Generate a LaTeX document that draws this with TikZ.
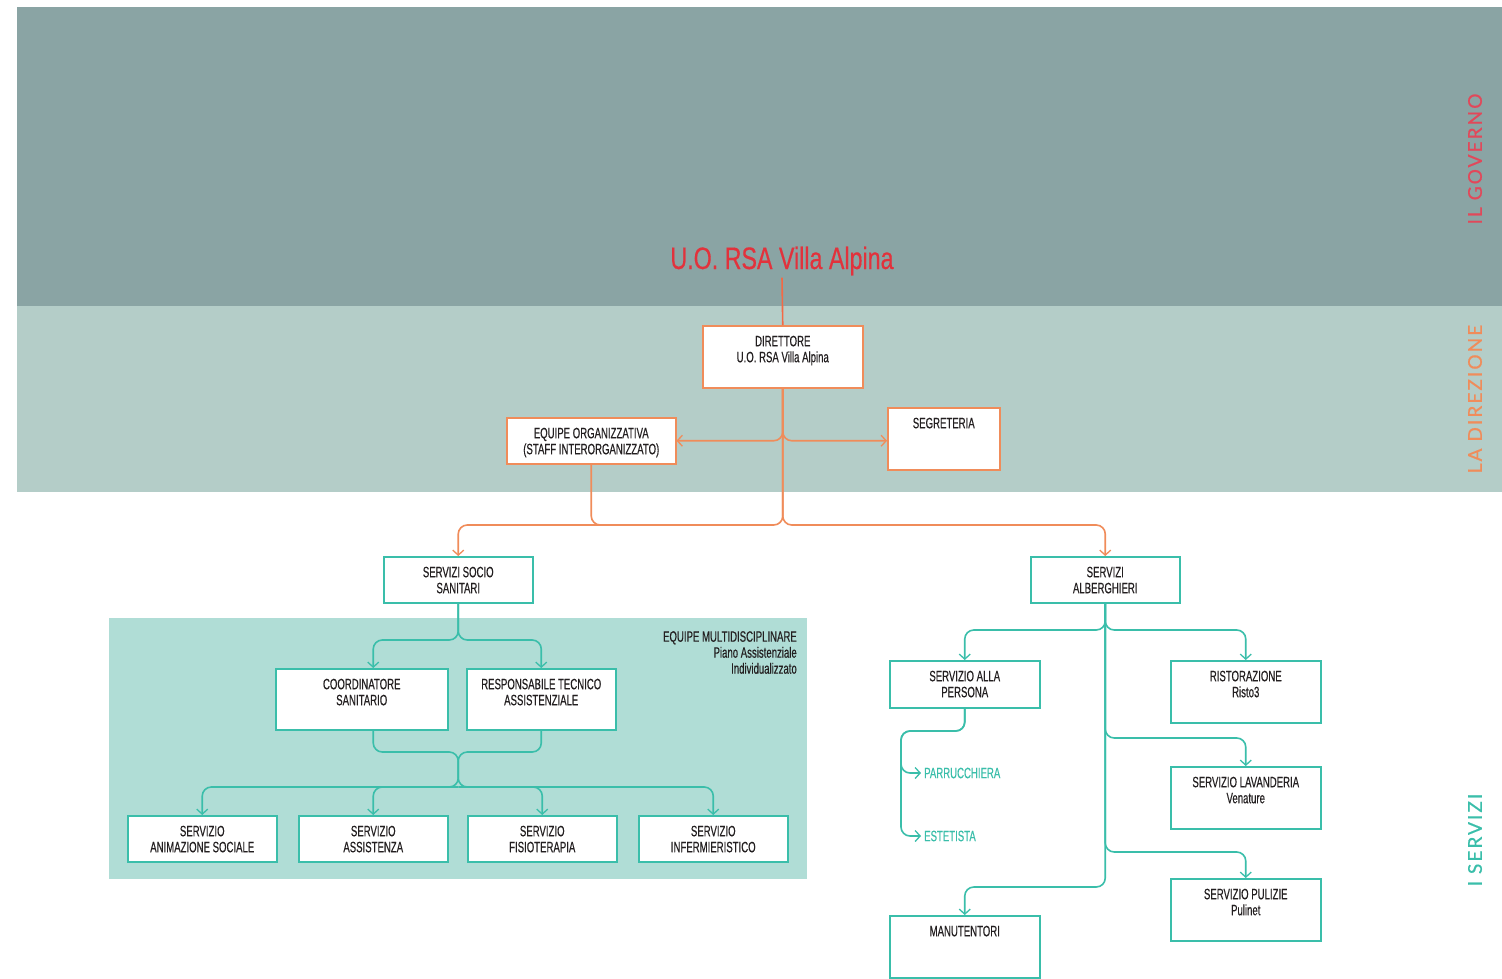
\documentclass[tikz,border=0pt]{standalone}
\usepackage{fontspec}
\setmainfont{Liberation Sans}
\newfontfamily\bxf[FakeStretch=0.64,FakeBold=0.4]{Liberation Sans}
\newfontfamily\ttlf[FakeStretch=0.75,FakeBold=0.4]{Liberation Sans}
\newfontfamily\sidef[LetterSpace=11,FakeBold=0.6]{Lato}
\usetikzlibrary{arrows.meta}
\definecolor{bandtop}{RGB}{138,164,164}
\definecolor{bandmid}{RGB}{180,205,200}
\definecolor{panelc}{RGB}{176,221,214}
\definecolor{orng}{RGB}{240,140,90}
\definecolor{tealc}{RGB}{58,190,170}
\definecolor{titlered}{RGB}{226,50,60}
\definecolor{govred}{RGB}{226,72,90}
\definecolor{txt}{RGB}{35,31,32}
\newcommand\orgbox[7]{%
  \node[#6, inner sep=0pt, anchor=north west] (#1) at (#2,#3)
  {\parbox[c][\dimexpr #5pt-#3pt\relax][t]{\dimexpr #4pt-#2pt\relax}{\centering\vspace*{10pt}#7\par}};}
\begin{document}
\begin{tikzpicture}[x=1pt,y=-1pt,
  bx/.style={line width=1.5pt, fill=white, text=txt, font=\bxf\fontsize{15}{16}\selectfont},
  obox/.style={bx, draw=orng},
  tbox/.style={bx, draw=tealc},
  arr/.style={-{Straight Barb[length=5pt,width=11pt,line width=1.3pt]}},
  oline/.style={draw=orng, line width=1.6pt, rounded corners=9pt},
  tline/.style={draw=tealc, line width=1.6pt, rounded corners=9pt},
  ptext/.style={text=tealc, inner sep=3pt, font=\bxf\fontsize{15}{16}\selectfont},
  side/.style={rotate=90, font=\sidef\fontsize{19}{20}\selectfont}]
\useasboundingbox (0,0) rectangle (1502,978);
\fill[white] (0,0) rectangle (1502,978);
\fill[bandtop] (17,7) rectangle (1502,306);
\fill[bandmid] (17,306) rectangle (1502,492);
\fill[panelc] (109,618) rectangle (807,879);

% side labels
\node[side, text=govred] (gov) at (1475,159) {IL GOVERNO};
\node[side, text=orng] (dirz) at (1475,399) {LA DIREZIONE};
\node[side, text=tealc] (serv) at (1475,840) {I SERVIZI};

% title
\node[text=titlered, font=\ttlf\fontsize{31}{33}\selectfont, anchor=base, inner sep=2pt] (title) at (782,269) {U.O. RSA Villa Alpina};

% boxes
\orgbox{dir}{702}{325}{862}{387}{obox}{DIRETTORE\\U.O. RSA Villa Alpina}
\orgbox{eq}{506}{417}{675}{463}{obox}{EQUIPE ORGANIZZATIVA\\(STAFF INTERORGANIZZATO)}
\orgbox{seg}{887}{407}{999}{469}{obox}{SEGRETERIA}
\orgbox{sss}{383}{556}{532}{602}{tbox}{SERVIZI SOCIO\\SANITARI}
\orgbox{sa}{1030}{556}{1179}{602}{tbox}{SERVIZI\\ALBERGHIERI}
\orgbox{coord}{275}{668}{447}{729}{tbox}{COORDINATORE\\SANITARIO}
\orgbox{rta}{466}{668}{615}{729}{tbox}{RESPONSABILE TECNICO\\ASSISTENZIALE}
\orgbox{anim}{127}{815}{276}{861}{tbox}{SERVIZIO\\ANIMAZIONE SOCIALE}
\orgbox{ass}{298}{815}{447}{861}{tbox}{SERVIZIO\\ASSISTENZA}
\orgbox{fis}{467}{815}{616}{861}{tbox}{SERVIZIO\\FISIOTERAPIA}
\orgbox{inf}{638}{815}{787}{861}{tbox}{SERVIZIO\\INFERMIERISTICO}
\orgbox{sap}{889}{660}{1039}{707}{tbox}{SERVIZIO ALLA\\PERSONA}
\orgbox{risto}{1170}{660}{1320}{722}{tbox}{RISTORAZIONE\\Risto3}
\orgbox{lav}{1170}{766}{1320}{828}{tbox}{SERVIZIO LAVANDERIA\\Venature}
\orgbox{pul}{1170}{878}{1320}{940}{tbox}{SERVIZIO PULIZIE\\Pulinet}
\orgbox{man}{889}{915}{1039}{977}{tbox}{MANUTENTORI}

\node[anchor=north east, align=right, inner sep=0pt, text=txt, font=\bxf\fontsize{15}{16}\selectfont] (emd) at (797,631)
  {EQUIPE MULTIDISCIPLINARE\\Piano Assistenziale\\Individualizzato};

\node[ptext, anchor=west] (parr) at (921,773) {PARRUCCHIERA};
\node[ptext, anchor=west] (est) at (921,836) {ESTETISTA};

% orange connectors
\coordinate (h1) at (dir.south |- 0,525);
\coordinate (eqj) at (640,525);
\draw[oline, draw=orng!75!red] (title.south) -- (dir.north);
\draw[oline, arr] (dir.south) |- (eq.east);
\draw[oline, arr] (dir.south) |- (seg.west |- eq.east);
\draw[oline, arr] (dir.south) -- (h1) -| (sss.north);
\draw[oline, arr] (dir.south) -- (h1) -| (sa.north);
\draw[oline] (eq.south) |- (eqj);

% teal connectors, left
\coordinate (t1) at (sss.south |- 0,640);
\coordinate (t2) at (sss.south |- 0,752);
\coordinate (t3) at (sss.south |- 0,787);
\draw[tline, arr] (sss.south) -- (t1) -| (coord.north -| ass.north);
\draw[tline, arr] (sss.south) -- (t1) -| (rta.north);
\draw[tline, arr] (coord.south -| ass.north) |- (t2) -- (t3) -| (anim.north);
\draw[tline, arr] (rta.south) |- (t2) -- (t3) -| (inf.north);
\draw[tline, arr] (t3) -| (ass.north);
\draw[tline, arr] (t3) -| (fis.north);

% teal connectors, right
\coordinate (r1) at (sa.south |- 0,630);
\coordinate (r2) at (sa.south |- 0,738);
\coordinate (r3) at (sa.south |- 0,852);
\coordinate (r4) at (sa.south |- 0,887);
\draw[tline, arr] (sa.south) -- (r1) -| (sap.north);
\draw[tline, arr] (sa.south) -- (r1) -| (risto.north);
\draw[tline, arr] (sa.south) -- (r2) -| (lav.north);
\draw[tline, arr] (sa.south) -- (r3) -| (pul.north);
\draw[tline, arr] (sa.south) -- (r4) -| (man.north);

\coordinate (p1) at (901,731);
\draw[tline, arr] (sap.south) |- (p1) |- (parr.west);
\draw[tline, arr] (sap.south) |- (p1) |- (est.west);
\end{tikzpicture}
\end{document}
